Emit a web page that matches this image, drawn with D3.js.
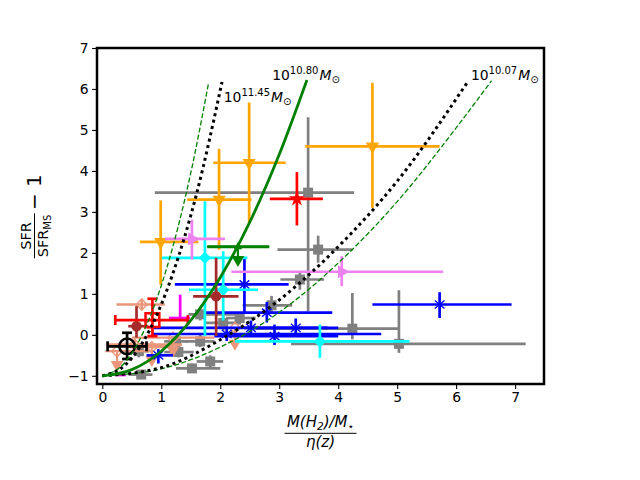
<!DOCTYPE html>
<html>
<head>
<meta charset="utf-8">
<script src="https://cdn.jsdelivr.net/npm/d3@7"></script>
<style>
  body { margin: 0; background: #fff; }
  svg { font-family: "DejaVu Sans", sans-serif; }
</style>
</head>
<body>
<svg id="chart" width="640" height="480"></svg>
<script>
// rows: [x, y, xmin, xmax, ymin, ymax]
const graySquares = [
    [3.49, 3.47, 0.89, 4.27, 0.58, 5.31],
    [3.66, 2.08, 2.97, 4.24, 1.76, 2.42],
    [3.35, 1.35, 3.02, 3.76, 1.10, 1.51],
    [4.24, 0.15, 2.60, 5.02, -0.11, 1.02],
    [5.03, -0.22, 3.20, 7.18, -0.44, 1.09],
    [2.87, 0.72, 2.38, 3.22, 0.55, 0.95],
    [1.66, 0.50, 1.46, 2.37, 0.35, 0.65],
    [2.05, 0.29, 1.75, 2.35, 0.10, 0.50],
    [2.33, 0.41, 2.10, 2.60, 0.25, 0.55],
    [1.66, -0.16, 1.40, 1.90, -0.30, 0.00],
    [1.29, -0.42, 1.05, 1.55, -0.55, -0.25],
    [1.83, -0.65, 1.60, 2.05, -0.80, -0.50],
    [1.52, -0.82, 1.25, 2.00, -0.92, -0.70],
    [0.66, -0.97, 0.45, 0.85, -1.05, -0.90],
    [0.62, -0.40, 0.40, 0.80, -0.55, -0.25],
    [1.25, -0.16, 1.05, 1.45, -0.28, -0.05]
];
const orangeLimits = [
    [2.49, 4.20, 1.88, 3.11, 2.73, 5.67],
    [1.98, 3.30, 1.44, 2.53, 2.08, 4.54],
    [0.99, 2.27, 0.64, 1.63, 1.22, 3.28],
    [4.58, 4.60, 3.44, 5.72, 3.10, 6.15]
];
const blueStars = [
    [2.41, 1.23, 1.23, 3.16, 0.54, 1.87],
    [5.72, 0.74, 4.58, 6.94, 0.41, 1.04],
    [2.79, 0.54, 1.74, 3.90, 0.30, 0.80],
    [2.11, 0.02, 0.85, 4.73, -0.15, 0.20],
    [2.52, 0.17, 0.87, 3.82, 0.00, 0.35],
    [2.92, -0.03, 1.90, 4.00, -0.25, 0.25],
    [3.28, 0.17, 2.40, 4.00, 0.00, 0.40],
    [0.95, -0.50, 0.75, 1.20, -0.70, -0.35]
];
const cyanDiamonds = [
    [1.74, 1.88, 1.01, 2.46, -0.03, 3.26],
    [2.05, 1.10, 1.47, 2.64, 0.35, 2.04],
    [3.69, -0.16, 2.25, 5.21, -0.56, 0.25]
];
const violetTriangles = [
    [4.06, 1.54, 2.19, 5.78, 1.19, 1.92],
    [1.52, 2.34, 1.06, 2.08, 1.84, 2.81]
];
const brownCircles = [
    [1.93, 0.94, 1.54, 2.31, -0.03, 1.88],
    [0.58, 0.21, 0.44, 0.78, -0.07, 0.70]
];
const magentaPoints = [
    [1.32, 0.41, 1.13, 1.49, 0.37, 0.98],
    [0.30, -0.98, 0.22, 0.40, -1.00, -0.96]
];
const salmonDiamonds = [
    [0.67, 0.74, 0.24, 1.06, 0.60, 0.88],
    [0.55, -0.24, 0.07, 1.35, -0.35, -0.12]
];
// rows: [x, y, xmin, xmax, arrow tip y]
const salmonLimits = [
    [2.25, 0.17, 0.75, 3.41, -0.28],
    [0.25, -0.40, 0.05, 0.80, -0.80],
    [1.20, -0.07, 0.50, 1.90, -0.45],
    [0.84, -0.30, 0.40, 1.20, -0.68]
];
const greenLimits = [
    [2.30, 2.15, 1.78, 2.83, 1.76]
];
const redStars = [
    [3.30, 3.32, 2.84, 3.74, 2.67, 3.97]
];
const redSquares = [
    [0.85, 0.36, 0.22, 1.45, -0.03, 0.88]
];
const blackCircles = [
    [0.42, -0.28, 0.09, 0.75, -0.59, 0.05]
];

// model curves, [x, y]
const curveGreenSolid = [[0, -1], [0.5, -0.85], [1, -0.4], [1.5, 0.35], [2, 1.4], [2.5, 2.75], [3, 4.4], [3.47, 6.22]];
const curveDottedLeft = [[0, -1], [0.4, -0.72], [0.8, 0.11], [1.2, 1.51], [1.6, 3.45], [2.03, 6.17]];
const curveDashedLeft = [[0, -1], [0.4, -0.65], [0.8, 0.41], [1.2, 2.17], [1.5, 3.95], [1.8, 6.13]];
const curveDottedRight = [[0, -1], [1, -0.8], [2, -0.12], [3, 0.85], [4, 2.15], [5, 3.75], [6.18, 6.14]];
const curveDashedRight = [[0, -1], [1, -0.83], [2, -0.3], [3, 0.55], [4, 1.75], [5, 3.25], [6, 5.05], [6.6, 6.2]];
const curveLabels = [
    {x: 2.06, y: 5.69, exp: "11.45"},
    {x: 2.88, y: 6.23, exp: "10.80"},
    {x: 6.25, y: 6.23, exp: "10.07"}
];

const xTicks = [0, 1, 2, 3, 4, 5, 6, 7];
const yTicks = [-1, 0, 1, 2, 3, 4, 5, 6, 7];

const svg = d3.select("#chart");
const plotLeft = 97, plotRight = 544, plotTop = 48, plotBottom = 384;

const x = d3.scaleLinear().domain([-0.09, 7.49]).range([plotLeft, plotRight]);
const y = d3.scaleLinear().domain([-1.2, 7]).range([plotBottom, plotTop]);

const plot = svg.append("g");
plot.append("clipPath").attr("id", "clip")
    .append("rect").attr("x", plotLeft).attr("y", plotTop)
    .attr("width", plotRight - plotLeft).attr("height", plotBottom - plotTop);
const body = plot.append("g").attr("clip-path", "url(#clip)");

function errorBars(rows, color, width, caps) {
    let g = body.append("g").attr("stroke", color).attr("stroke-width", width);
    rows.forEach(d => {
        g.append("line").attr("x1", x(d[2])).attr("x2", x(d[3])).attr("y1", y(d[1])).attr("y2", y(d[1]));
        g.append("line").attr("x1", x(d[0])).attr("x2", x(d[0])).attr("y1", y(d[4])).attr("y2", y(d[5]));
        if (caps) {
            g.append("line").attr("x1", x(d[2])).attr("x2", x(d[2])).attr("y1", y(d[1]) - caps).attr("y2", y(d[1]) + caps);
            g.append("line").attr("x1", x(d[3])).attr("x2", x(d[3])).attr("y1", y(d[1]) - caps).attr("y2", y(d[1]) + caps);
            g.append("line").attr("x1", x(d[0]) - caps).attr("x2", x(d[0]) + caps).attr("y1", y(d[4])).attr("y2", y(d[4]));
            g.append("line").attr("x1", x(d[0]) - caps).attr("x2", x(d[0]) + caps).attr("y1", y(d[5])).attr("y2", y(d[5]));
        }
    });
    return g;
}

function markers(rows, type, size, rotate, fill, stroke, sw) {
    body.append("g").selectAll("path")
        .data(rows)
        .join("path")
        .attr("d", d3.symbol().type(type).size(size))
        .attr("transform", d => `translate(${x(d[0])},${y(d[1])}) rotate(${rotate})`)
        .attr("fill", fill)
        .attr("stroke", stroke)
        .attr("stroke-width", sw);
}

function limitArrows(rows, color) {
    let g = body.append("g").attr("stroke", color).attr("stroke-width", 2.2);
    rows.forEach(d => {
        g.append("line").attr("x1", x(d[2])).attr("x2", x(d[3])).attr("y1", y(d[1])).attr("y2", y(d[1]));
        g.append("line").attr("x1", x(d[0])).attr("x2", x(d[0])).attr("y1", y(d[1])).attr("y2", y(d[4]) - 6);
    });
    g.selectAll("path.head")
        .data(rows)
        .join("path")
        .attr("d", d3.symbol().type(d3.symbolTriangle).size(70))
        .attr("transform", d => `translate(${x(d[0])},${y(d[4]) - 3}) rotate(180)`)
        .attr("fill", color)
        .attr("stroke", "none");
}

// asterisk marker for the blue series
const asterisk = {
    draw(ctx, size) {
        let r = Math.sqrt(size) / 2;
        [90, 40, 140].forEach(a => {
            let t = a * Math.PI / 180;
            ctx.moveTo(-r * Math.cos(t), -r * Math.sin(t));
            ctx.lineTo(r * Math.cos(t), r * Math.sin(t));
        });
    }
};

// gray
errorBars(graySquares, "#808080", 2.7);
markers(graySquares, d3.symbolSquare, 100, 0, "#808080", "none", 0);

// orange upper limits
errorBars(orangeLimits, "#ffa500", 2.7);
markers(orangeLimits, d3.symbolTriangle, 75, 180, "#ffa500", "none", 0);

// salmon
errorBars(salmonDiamonds, "#e9967a", 2.7);
limitArrows(salmonLimits, "#e9967a");
markers(salmonDiamonds.concat(salmonLimits), d3.symbolSquare, 60, 45, "none", "#e9967a", 1.4);

// blue
errorBars(blueStars, "#0000ff", 2.7);
markers(blueStars, asterisk, 160, 0, "none", "#0000ff", 1.4);

// cyan
errorBars(cyanDiamonds, "#00ffff", 2.7);
markers(cyanDiamonds, d3.symbolSquare, 75, 45, "#00ffff", "none", 0);

// violet
errorBars(violetTriangles, "#ee82ee", 2.7);
markers(violetTriangles, d3.symbolTriangle, 75, 90, "#ee82ee", "none", 0);

// brown
errorBars(brownCircles, "#a52a2a", 2.7);
markers(brownCircles, d3.symbolCircle, 85, 0, "#a52a2a", "none", 0);

// magenta
errorBars(magentaPoints, "#ff00ff", 2.7);

// green limit
limitArrows(greenLimits, "#008000");
body.append("g").selectAll("line")
    .data(greenLimits)
    .join("line")
    .attr("x1", d => x(d[2])).attr("x2", d => x(d[3]))
    .attr("y1", d => y(d[1])).attr("y2", d => y(d[1]))
    .attr("stroke", "#008000").attr("stroke-width", 3);
markers(greenLimits, d3.symbolTriangle, 30, 0, "#008000", "none", 0);

// red square, black circle, red star
errorBars(redSquares, "#ff0000", 2.7, 5);
markers(redSquares, d3.symbolSquare, 190, 0, "none", "#ff0000", 2.5);
errorBars(blackCircles, "#000000", 2.7, 5);
markers(blackCircles, d3.symbolCircle, 190, 0, "none", "#000000", 2.5);
errorBars(redStars, "#ff0000", 2.7);
markers(redStars, d3.symbolStar, 80, 0, "#ff0000", "none", 0);

// model curves
const line = d3.line().x(d => x(d[0])).y(d => y(d[1])).curve(d3.curveMonotoneX);
const curves = body.append("g").attr("fill", "none");
curves.append("path").attr("d", line(curveDashedLeft)).attr("stroke", "#008000").attr("stroke-width", 1.3).attr("stroke-dasharray", "5,2.3");
curves.append("path").attr("d", line(curveDashedRight)).attr("stroke", "#008000").attr("stroke-width", 1.3).attr("stroke-dasharray", "5,2.3");
curves.append("path").attr("d", line(curveDottedLeft)).attr("stroke", "#000").attr("stroke-width", 3).attr("stroke-dasharray", "3,3.5");
curves.append("path").attr("d", line(curveDottedRight)).attr("stroke", "#000").attr("stroke-width", 3).attr("stroke-dasharray", "3,3.5");
curves.append("path").attr("d", line(curveGreenSolid)).attr("stroke", "#008000").attr("stroke-width", 2.8);

// curve labels
curveLabels.forEach(l => {
    let t = svg.append("text").attr("x", x(l.x)).attr("y", y(l.y)).attr("font-size", 13.9);
    t.append("tspan").text("10");
    t.append("tspan").attr("dy", -6).attr("font-size", 10).text(l.exp);
    t.append("tspan").attr("dy", 6).attr("dx", 1).attr("font-style", "italic").text("M");
    t.append("tspan").attr("dy", 3).attr("font-size", 10).text("⊙");
});

// axes
const xAxis = svg.append("g").attr("transform", `translate(0,${plotBottom})`)
    .call(d3.axisBottom(x).tickValues(xTicks).tickSize(4.9).tickPadding(3.5).tickFormat(d3.format("d")));
const yAxis = svg.append("g").attr("transform", `translate(${plotLeft},0)`)
    .call(d3.axisLeft(y).tickValues(yTicks).tickSize(4.9).tickPadding(3.5).tickFormat(d => d < 0 ? "\u2212" + Math.abs(d) : d));
[xAxis, yAxis].forEach(a => {
    a.select(".domain").remove();
    a.selectAll(".tick line").attr("stroke", "#000").attr("stroke-width", 1.1);
    a.selectAll(".tick text").attr("font-size", 13.9).attr("font-family", "DejaVu Sans").attr("fill", "#000");
});

svg.append("rect")
    .attr("x", plotLeft).attr("y", plotTop)
    .attr("width", plotRight - plotLeft).attr("height", plotBottom - plotTop)
    .attr("fill", "none").attr("stroke", "#000").attr("stroke-width", 2.5);

// x label
const xl = svg.append("g").attr("transform", `translate(${(plotLeft + plotRight) / 2},433.3)`);
let num = xl.append("text").attr("text-anchor", "middle").attr("y", -6).attr("font-size", 15).attr("font-style", "italic");
num.append("tspan").text("M(H");
num.append("tspan").attr("dy", 3).attr("font-size", 10.5).text("2");
num.append("tspan").attr("dy", -3).text(")/M");
num.append("tspan").attr("dy", 3).attr("font-size", 10.5).text("⋆");
xl.append("line").attr("x1", -36).attr("x2", 36).attr("stroke", "#000").attr("stroke-width", 1);
xl.append("text").attr("text-anchor", "middle").attr("y", 13.5).attr("font-size", 15).attr("font-style", "italic").text("η(z)");

// y label
const yl = svg.append("g").attr("transform", "translate(34.5,216) rotate(-90)");
yl.append("text").attr("text-anchor", "middle").attr("x", -20).attr("y", -3.5).attr("font-size", 14.5).text("SFR");
let den = yl.append("text").attr("text-anchor", "middle").attr("x", -20).attr("y", 13.5).attr("font-size", 14.5);
den.append("tspan").text("SFR");
den.append("tspan").attr("dy", 3).attr("font-size", 10).text("MS");
yl.append("line").attr("x1", -42.3).attr("x2", 2.7).attr("stroke", "#000").attr("stroke-width", 1);
yl.append("text").attr("x", 6).attr("y", 6.5).attr("font-size", 20).text("\u2212 1");
</script>
</body>
</html>
